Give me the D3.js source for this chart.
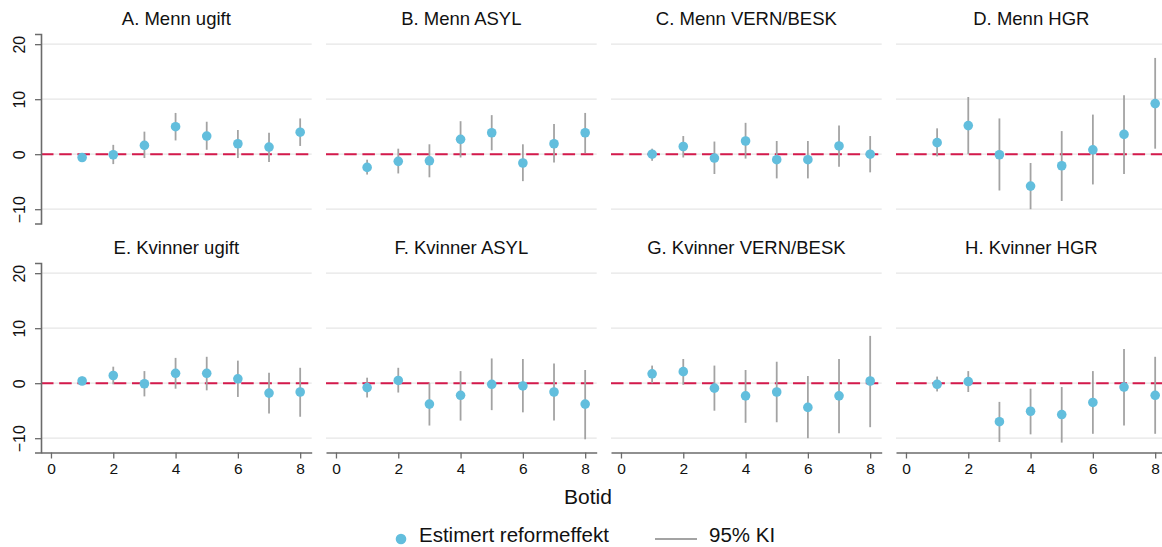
<!DOCTYPE html>
<html>
<head>
<meta charset="utf-8">
<script src="https://cdn.jsdelivr.net/npm/d3@7"></script>
<style>
  html, body { margin: 0; padding: 0; background: #fff; }
  svg { display: block; font-family: "Liberation Sans", Arial, sans-serif; }
</style>
</head>
<body>
<svg id="chart" width="1162" height="547"></svg>
<script>
// Botid (years of residence) on the x axis
const botid = [1, 2, 3, 4, 5, 6, 7, 8];
const xTicks = [0, 2, 4, 6, 8];
const yTicks = [-10, 0, 10, 20];

// Panel titles, row by row
const titles = [
  "A. Menn ugift", "B. Menn ASYL", "C. Menn VERN/BESK", "D. Menn HGR",
  "E. Kvinner ugift", "F. Kvinner ASYL", "G. Kvinner VERN/BESK", "H. Kvinner HGR"
];

// Estimated reform effect and 95% confidence bounds per panel
const estA = [-0.6, -0.1, 1.6, 5.0, 3.3, 1.9, 1.3, 4.0];
const loA  = [-1.2, -1.8, -0.7, 2.5, 0.8, -0.7, -1.4, 1.5];
const hiA  = [0.0, 1.7, 4.1, 7.5, 5.9, 4.4, 3.9, 6.5];

const estB = [-2.4, -1.3, -1.2, 2.7, 3.9, -1.6, 1.9, 3.9];
const loB  = [-3.7, -3.5, -4.2, -0.6, 0.7, -4.9, -1.5, 0.2];
const hiB  = [-1.0, 1.0, 1.8, 6.0, 7.1, 1.8, 5.5, 7.5];

const estC = [0.0, 1.4, -0.7, 2.4, -1.0, -1.0, 1.5, 0.0];
const loC  = [-1.2, -0.6, -3.6, -0.8, -4.4, -4.4, -2.3, -3.3];
const hiC  = [1.0, 3.3, 2.3, 5.7, 2.4, 2.4, 5.2, 3.3];

const estD = [2.1, 5.2, -0.1, -5.8, -2.1, 0.8, 3.6, 9.2];
const loD  = [-0.4, 0.0, -6.6, -10.0, -8.5, -5.5, -3.6, 1.0];
const hiD  = [4.7, 10.4, 6.5, -1.6, 4.2, 7.2, 10.7, 17.5];

const estE = [0.4, 1.4, -0.1, 1.8, 1.8, 0.8, -1.8, -1.6];
const loE  = [-0.3, -0.2, -2.4, -1.0, -1.3, -2.5, -5.5, -6.1];
const hiE  = [1.2, 3.0, 2.2, 4.6, 4.8, 4.1, 1.9, 2.8];

const estF = [-0.8, 0.5, -3.8, -2.2, -0.2, -0.5, -1.6, -3.8];
const loF  = [-2.6, -1.7, -7.7, -6.8, -4.9, -5.3, -6.8, -10.2];
const hiF  = [1.0, 2.8, 0.0, 2.2, 4.5, 4.4, 3.6, 2.4];

const estG = [1.7, 2.1, -0.9, -2.3, -1.6, -4.4, -2.3, 0.4];
const loG  = [0.0, -0.3, -5.0, -7.2, -7.1, -10.0, -9.1, -8.0];
const hiG  = [3.2, 4.4, 3.2, 2.4, 3.9, 1.3, 4.4, 8.6];

const estH = [-0.2, 0.3, -7.0, -5.1, -5.7, -3.5, -0.7, -2.2];
const loH  = [-1.5, -1.6, -10.7, -9.3, -10.8, -9.2, -7.7, -9.2];
const hiH  = [1.2, 2.2, -3.4, -1.0, -0.7, 2.2, 6.2, 4.8];

const panelEst = [estA, estB, estC, estD, estE, estF, estG, estH];
const panelLo  = [loA, loB, loC, loD, loE, loF, loG, loH];
const panelHi  = [hiA, hiB, hiC, hiD, hiE, hiF, hiG, hiH];

// Layout
const colLeft = 41, colStep = 285, plotW = 270.7;
const rowTop = 34, rowStep = 229, plotH = 189.5;

const pointColor = "#62bedd";
const ciColor = "#a3a3a3";
const refColor = "#d41a4c";
const axisColor = "#6b6b6b";
const gridColor = "#e6e6e6";

const x = d3.scaleLinear().domain([-0.32, 8.37]).range([0, plotW]);
const y = d3.scaleLinear().domain([-12.6, 21.85]).range([plotH, 0]);

const svg = d3.select("#chart");

titles.forEach((title, i) => {
  const col = i % 4, row = Math.floor(i / 4);
  const g = svg.append("g")
    .attr("transform", `translate(${colLeft + col * colStep},${rowTop + row * rowStep})`);

  // horizontal gridlines
  g.selectAll("line.grid").data(yTicks).join("line")
    .attr("class", "grid")
    .attr("x1", 0).attr("x2", plotW)
    .attr("y1", d => y(d)).attr("y2", d => y(d))
    .attr("stroke", gridColor).attr("stroke-width", 1.2);

  // zero reference line
  g.append("line")
    .attr("x1", 0).attr("x2", plotW)
    .attr("y1", y(0)).attr("y2", y(0))
    .attr("stroke", refColor).attr("stroke-width", 2)
    .attr("stroke-dasharray", "12.5,5.7");

  const est = panelEst[i], lo = panelLo[i], hi = panelHi[i];
  const pts = botid.map((b, k) => ({ b, est: est[k], lo: lo[k], hi: hi[k] }));

  // 95% confidence intervals
  g.selectAll("line.ci").data(pts).join("line")
    .attr("class", "ci")
    .attr("x1", d => x(d.b)).attr("x2", d => x(d.b))
    .attr("y1", d => y(d.lo)).attr("y2", d => y(d.hi))
    .attr("stroke", ciColor).attr("stroke-width", 1.8);

  // point estimates
  g.selectAll("circle.est").data(pts).join("circle")
    .attr("class", "est")
    .attr("cx", d => x(d.b)).attr("cy", d => y(d.est))
    .attr("r", 4.8)
    .attr("fill", pointColor);

  // panel title
  g.append("text")
    .attr("x", plotW / 2).attr("y", -9)
    .attr("text-anchor", "middle")
    .attr("font-size", 18.5)
    .attr("fill", "#111")
    .text(title);

  // y axis on the left column
  if (col === 0) {
    const ya = g.append("g")
      .call(d3.axisLeft(y).tickValues(yTicks).tickSize(6).tickPadding(0).tickFormat(d3.format("d")));
    ya.select(".domain").attr("stroke", axisColor).attr("stroke-width", 1.6);
    ya.selectAll(".tick line").attr("stroke", axisColor).attr("stroke-width", 1.3);
    ya.selectAll(".tick text")
      .attr("font-size", 16).attr("fill", "#111")
      .attr("font-family", "Liberation Sans, Arial, sans-serif")
      .attr("text-anchor", "middle")
      .attr("dy", null)
      .attr("x", null)
      .attr("transform", "translate(-16,0) rotate(-90)")
      .attr("y", 0);
  }

  // x axis on the bottom row
  if (row === 1) {
    const xa = g.append("g")
      .attr("transform", `translate(0,${plotH})`)
      .call(d3.axisBottom(x).tickValues(xTicks).tickSize(6).tickPadding(4).tickSizeOuter(0).tickFormat(d3.format("d")));
    xa.select(".domain").attr("stroke", axisColor).attr("stroke-width", 1.6);
    xa.selectAll(".tick line").attr("stroke", axisColor).attr("stroke-width", 1.3);
    xa.selectAll(".tick text")
      .attr("font-size", 15.5).attr("fill", "#111")
      .attr("font-family", "Liberation Sans, Arial, sans-serif");
  }
});

// x axis title
svg.append("text")
  .attr("x", 588).attr("y", 504)
  .attr("text-anchor", "middle")
  .attr("font-size", 21)
  .attr("fill", "#111")
  .text("Botid");

// legend
const legend = svg.append("g").attr("transform", "translate(0,539)");
legend.append("circle").attr("cx", 401).attr("cy", 0).attr("r", 5.3).attr("fill", pointColor);
legend.append("text").attr("x", 419).attr("y", 3)
  .attr("font-size", 20.5).attr("fill", "#111").text("Estimert reformeffekt");
legend.append("line").attr("x1", 655).attr("x2", 697).attr("y1", 0).attr("y2", 0)
  .attr("stroke", ciColor).attr("stroke-width", 1.8);
legend.append("text").attr("x", 709).attr("y", 3)
  .attr("font-size", 20.5).attr("fill", "#111").text("95% KI");
</script>
</body>
</html>
